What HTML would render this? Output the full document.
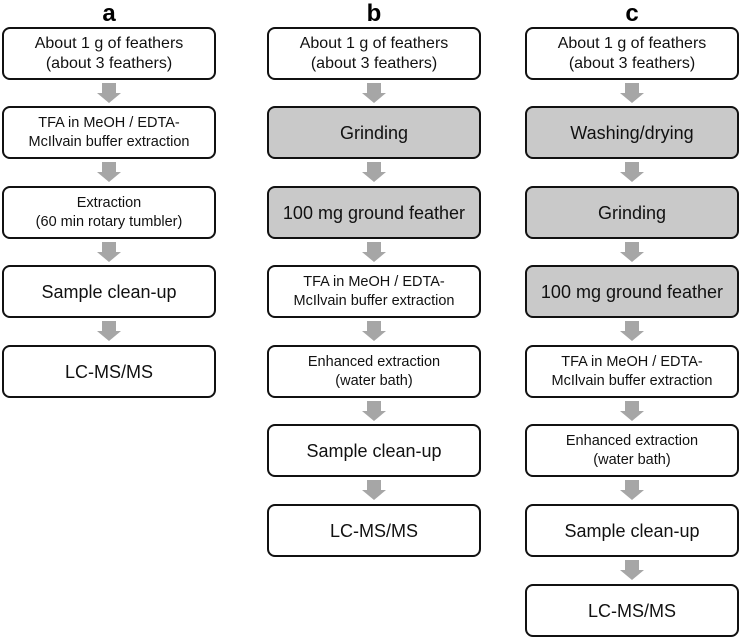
<!DOCTYPE html><html><head><style>
body{margin:0;width:742px;height:641px;background:#fff;position:relative;overflow:hidden;font-family:"Liberation Sans",sans-serif;}
.b{position:absolute;width:210px;height:49px;border:2.5px solid #111;border-radius:8px;background:#fff;display:flex;align-items:center;justify-content:center;text-align:center;color:#111;font-size:16px;line-height:20px;}
.g{background:#c9c9c9;}
.s{font-size:14.5px;line-height:19px;}
.l{font-size:18px;}
.h{position:absolute;top:0;font-weight:bold;font-size:24px;width:214px;text-align:center;}
</style></head><body>
<div class="h" style="left:2px">a</div>
<div class="h" style="left:267px">b</div>
<div class="h" style="left:525px">c</div>

<div class="b" style="left:2px;top:27px">About 1 g of feathers<br>(about 3 feathers)</div>
<div class="b s" style="left:2px;top:106px">TFA in MeOH / EDTA-<br>McIlvain buffer extraction</div>
<div class="b s" style="left:2px;top:186px">Extraction<br>(60 min rotary tumbler)</div>
<div class="b l" style="left:2px;top:265px">Sample clean-up</div>
<div class="b l" style="left:2px;top:345px">LC-MS/MS</div>

<div class="b" style="left:267px;top:27px">About 1 g of feathers<br>(about 3 feathers)</div>
<div class="b g l" style="left:267px;top:106px">Grinding</div>
<div class="b g l" style="left:267px;top:186px">100 mg ground feather</div>
<div class="b s" style="left:267px;top:265px">TFA in MeOH / EDTA-<br>McIlvain buffer extraction</div>
<div class="b s" style="left:267px;top:345px">Enhanced extraction<br>(water bath)</div>
<div class="b l" style="left:267px;top:424px">Sample clean-up</div>
<div class="b l" style="left:267px;top:504px">LC-MS/MS</div>

<div class="b" style="left:525px;top:27px">About 1 g of feathers<br>(about 3 feathers)</div>
<div class="b g l" style="left:525px;top:106px">Washing/drying</div>
<div class="b g l" style="left:525px;top:186px">Grinding</div>
<div class="b g l" style="left:525px;top:265px">100 mg ground feather</div>
<div class="b s" style="left:525px;top:345px">TFA in MeOH / EDTA-<br>McIlvain buffer extraction</div>
<div class="b s" style="left:525px;top:424px">Enhanced extraction<br>(water bath)</div>
<div class="b l" style="left:525px;top:504px">Sample clean-up</div>
<div class="b l" style="left:525px;top:584px">LC-MS/MS</div>

<svg width="742" height="641" style="position:absolute;left:0;top:0" >
<defs><polygon id="a" points="-7,0 7,0 7,10 12,10 0,20 -12,10 -7,10" fill="#a6a6a6"/></defs>
<use href="#a" x="109" y="83"/><use href="#a" x="109" y="162"/><use href="#a" x="109" y="242"/><use href="#a" x="109" y="321"/>
<use href="#a" x="374" y="83"/><use href="#a" x="374" y="162"/><use href="#a" x="374" y="242"/><use href="#a" x="374" y="321"/><use href="#a" x="374" y="401"/><use href="#a" x="374" y="480"/>
<use href="#a" x="632" y="83"/><use href="#a" x="632" y="162"/><use href="#a" x="632" y="242"/><use href="#a" x="632" y="321"/><use href="#a" x="632" y="401"/><use href="#a" x="632" y="480"/><use href="#a" x="632" y="560"/>
</svg>
</body></html>
